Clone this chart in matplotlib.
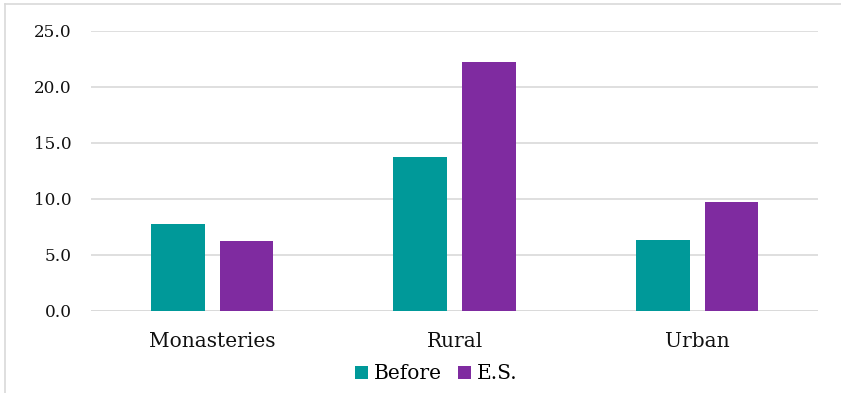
import matplotlib
matplotlib.use("Agg")
import matplotlib.pyplot as plt
import numpy as np
from matplotlib.lines import Line2D

categories = ["Monasteries", "Rural", "Urban"]
series_names = ["Before", "E.S."]
before = [7.8, 13.7, 6.3]
es = [6.2, 22.2, 9.7]
yticks = [0, 5, 10, 15, 20, 25]
colors = ["#009999", "#7F2BA0"]

plt.rcParams['font.family'] = ['DejaVu Serif']

fig = plt.figure(figsize=(8.41, 3.93), dpi=100)
ax = fig.add_axes([0.108, 0.2087, 0.865, 0.7133])

x = np.arange(len(categories))
w = 0.222
gap = 0.062
off = (w + gap) / 2
ax.bar(x - off, before, width=w, color=colors[0], label=series_names[0], zorder=3)
ax.bar(x + off, es, width=w, color=colors[1], label=series_names[1], zorder=3)

ax.set_xlim(-0.5, 2.5)
ax.set_ylim(0, 25)
ax.set_yticks(yticks)
ax.set_yticklabels([f"{v:.1f}" for v in yticks])
ax.set_xticks(x)
ax.set_xticklabels(categories)
ax.yaxis.grid(True, color="#d9d9d9", linewidth=1.2, zorder=0)
for s in ax.spines.values():
    s.set_visible(False)
ax.tick_params(axis='y', length=0, pad=14, labelsize=12.2, colors="#111111")
ax.tick_params(axis='x', length=0, pad=15, labelsize=14.5, colors="#111111")
ax.axhline(0, color="#d9d9d9", linewidth=1.2, zorder=1)

leg = ax.legend(loc='upper center', bbox_to_anchor=(0.4745, -0.14), ncol=2, frameon=False,
                fontsize=14.5, handlelength=0.65, handleheight=0.65, handletextpad=0.3,
                columnspacing=0.8, borderpad=0.2)

# chart-area border (top and left visible)
fig.add_artist(Line2D([5/841, 5/841], [0, 1 - 4/393], transform=fig.transFigure,
                      color="#d9d9d9", linewidth=1.2))
fig.add_artist(Line2D([5/841, 1], [1 - 4/393, 1 - 4/393], transform=fig.transFigure,
                      color="#d9d9d9", linewidth=1.2))

fig.savefig("out.png", dpi=100)
